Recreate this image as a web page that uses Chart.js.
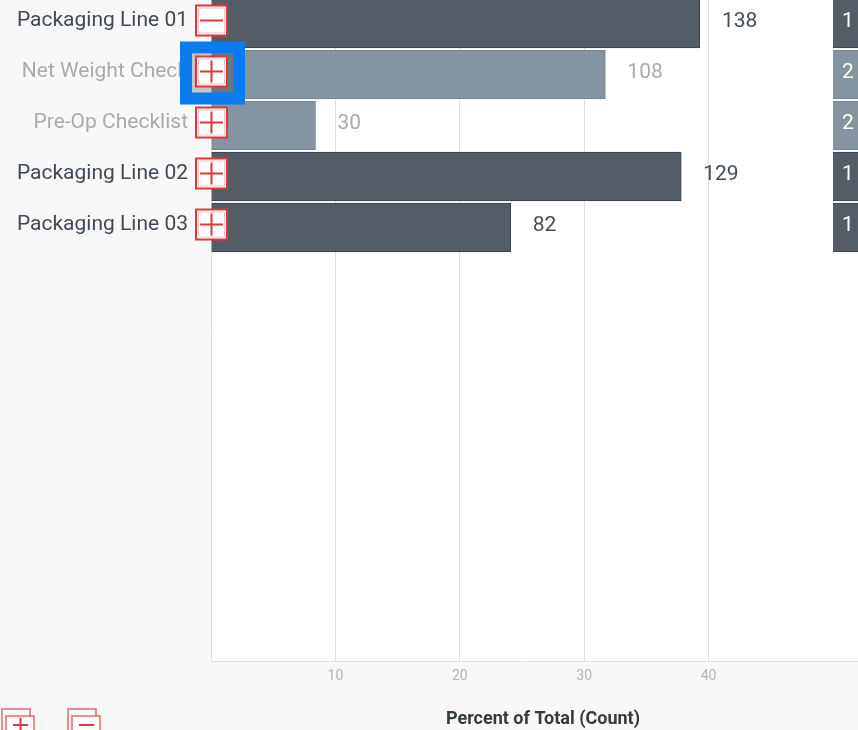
<!DOCTYPE html>
<html>
<head>
<meta charset="utf-8">
<script src="https://cdn.jsdelivr.net/npm/chart.js@4.4.1/dist/chart.umd.min.js"></script>
<style>
  html, body { margin: 0; padding: 0; width: 858px; height: 730px; overflow: hidden; background: #f8f8f8; }
  body { position: relative; }
  #main { position: absolute; left: 0; top: -2px; width: 858px; height: 732px; }
  #side { position: absolute; left: 833px; top: -2px; width: 120px; height: 732px; }
</style>
</head>
<body>
<div id="main"><canvas id="mainChart"></canvas></div>
<div id="side"><canvas id="sideChart"></canvas></div>
<script>
const categories = ['Packaging Line 01', 'Net Weight Check', 'Pre-Op Checklist', 'Packaging Line 02', 'Packaging Line 03'];
const isChild = [false, true, true, false, false];
const expanded = [true, false, false, false, false];
const percentOfTotal = [39.3, 31.7, 8.4, 37.8, 24.1];
const counts = [138, 108, 30, 129, 82];
const sideValues = [1, 2, 2, 1, 1];
const xTickLabels = [10, 20, 30, 40];
const focusedRow = 1;

// the list has fixed-height rows; the rest of the panel is empty rows
const visibleRows = 13;
const rowLabels = categories.concat(Array(visibleRows - categories.length).fill(''));

const DARK = '#545c65', DARK_EDGE = '#3b4249';
const LIGHT = '#8594a0', LIGHT_EDGE = '#76838e';
const RED = '#e0363b';

Chart.defaults.font.family = 'Roboto';

function yScale(show) {
  const s = {
    type: 'category', display: show, offset: true,
    grid: { display: false, drawTicks: false }, border: { display: false },
    ticks: {
      autoSkip: false, padding: 23, labelOffset: -3,
      font: { size: 21 },
      color: ctx => isChild[ctx.index] ? '#ababab' : '#414a54'
    }
  };
  if (show) s.afterFit = axis => { axis.width = 211; axis.paddingTop = 0; axis.paddingBottom = 0; };
  return s;
}

function whiteArea(chart) {
  const { ctx, chartArea: a } = chart;
  ctx.save();
  ctx.fillStyle = '#ffffff';
  ctx.fillRect(a.left, a.top, a.right - a.left, a.bottom - a.top);
  ctx.restore();
}

function drawIcon(ctx, cx, cy, minus) {
  ctx.save();
  ctx.fillStyle = '#fff';
  ctx.fillRect(cx - 15, cy - 15, 31, 30);
  ctx.strokeStyle = RED; ctx.lineWidth = 2;
  ctx.strokeRect(cx - 15, cy - 15, 31, 30);
  ctx.strokeStyle = 'rgba(224,54,59,0.3)'; ctx.lineWidth = 1;
  ctx.strokeRect(cx - 12.5, cy - 12.5, 26, 25);
  ctx.strokeStyle = RED; ctx.lineWidth = 2;
  ctx.beginPath();
  ctx.moveTo(cx - 11, cy); ctx.lineTo(cx + 12, cy);
  if (!minus) { ctx.moveTo(cx + 0.5, cy - 11); ctx.lineTo(cx + 0.5, cy + 11); }
  ctx.stroke();
  ctx.restore();
}

function drawStackIcon(ctx, x, y, minus) {
  ctx.save();
  ctx.strokeStyle = 'rgba(224,54,59,0.75)'; ctx.lineWidth = 1.5;
  ctx.fillStyle = '#fff';
  ctx.strokeRect(x, y, 28, 28);
  ctx.fillRect(x + 4, y + 7, 28, 28);
  ctx.strokeRect(x + 4, y + 7, 28, 28);
  ctx.strokeStyle = RED; ctx.lineWidth = 2;
  ctx.beginPath();
  ctx.moveTo(x + 11, y + 16); ctx.lineTo(x + 26, y + 16);
  if (!minus) { ctx.moveTo(x + 18.5, y + 9); ctx.lineTo(x + 18.5, y + 23); }
  ctx.stroke();
  ctx.restore();
}

const mainDecor = {
  id: 'mainDecor',
  beforeDraw: whiteArea,
  afterDatasetsDraw(chart) {
    const { ctx } = chart;
    ctx.save();
    ctx.font = '21px Roboto';
    ctx.textBaseline = 'middle';
    chart.getDatasetMeta(0).data.forEach((bar, i) => {
      ctx.fillStyle = isChild[i] ? '#ababab' : '#444d57';
      ctx.fillText(String(counts[i]), bar.x + 22, bar.y - 2);
    });
    ctx.restore();
  },
  afterDraw(chart) {
    const { ctx, chartArea } = chart;
    const y = chart.scales.y;
    categories.forEach((c, i) => {
      const cx = chartArea.left, cy = y.getPixelForValue(i) - 3;
      if (i === focusedRow) {
        ctx.save();
        ctx.fillStyle = 'rgba(0,0,0,0.2)';
        ctx.fillRect(cx - 19, cy - 18, 41, 40);
        ctx.strokeStyle = '#0b7cf0'; ctx.lineWidth = 12;
        ctx.strokeRect(cx - 25, cy - 24, 53, 51);
        ctx.restore();
      }
      drawIcon(ctx, cx, cy, expanded[i]);
    });
    ctx.save();
    ctx.fillStyle = '#333a40';
    ctx.font = 'bold 18px Roboto';
    ctx.textAlign = 'center';
    ctx.textBaseline = 'middle';
    ctx.fillText('Percent of Total (Count)', 543, 721);
    ctx.restore();
    drawStackIcon(ctx, 2, 711, false);
    drawStackIcon(ctx, 68, 711, true);
  }
};

new Chart(document.getElementById('mainChart'), {
  type: 'bar',
  data: {
    labels: rowLabels,
    datasets: [{
      data: percentOfTotal,
      backgroundColor: isChild.map(c => c ? LIGHT : DARK),
      borderColor: isChild.map(c => c ? LIGHT_EDGE : DARK_EDGE),
      borderWidth: 1,
      barThickness: 49
    }]
  },
  options: {
    indexAxis: 'y',
    responsive: true, maintainAspectRatio: false, animation: false,
    layout: { padding: { left: 0, right: 25, top: 0, bottom: 0 } },
    plugins: { legend: { display: false }, tooltip: { enabled: false } },
    scales: {
      x: {
        type: 'linear', min: 0, max: 50,
        grid: { color: '#dedede', drawTicks: false },
        border: { color: '#dedede' },
        ticks: {
          stepSize: 10, padding: 7, color: '#b5b5b5', font: { size: 14 },
          callback: v => xTickLabels.includes(v) ? String(v) : ''
        },
        afterFit: axis => { axis.height = 69; }
      },
      y: yScale(true)
    }
  },
  plugins: [mainDecor]
});

const sideDecor = {
  id: 'sideDecor',
  beforeDraw: whiteArea,
  afterDatasetsDraw(chart) {
    const { ctx } = chart;
    ctx.save();
    ctx.font = '21px Roboto';
    ctx.textBaseline = 'middle';
    ctx.fillStyle = '#ffffff';
    chart.getDatasetMeta(0).data.forEach((bar, i) => {
      ctx.fillText(String(sideValues[i]), bar.base + 9, bar.y - 2);
    });
    ctx.restore();
  }
};

new Chart(document.getElementById('sideChart'), {
  type: 'bar',
  data: {
    labels: rowLabels,
    datasets: [{
      data: sideValues,
      backgroundColor: isChild.map(c => c ? LIGHT : DARK),
      borderColor: isChild.map(c => c ? LIGHT_EDGE : DARK_EDGE),
      borderWidth: 1,
      barThickness: 49
    }]
  },
  options: {
    indexAxis: 'y',
    responsive: true, maintainAspectRatio: false, animation: false,
    plugins: { legend: { display: false }, tooltip: { enabled: false } },
    scales: {
      x: {
        type: 'linear', min: 0, max: 2.2,
        grid: { display: false },
        border: { color: '#dedede' },
        ticks: { display: false },
        afterFit: axis => { axis.height = 69; }
      },
      y: yScale(false)
    }
  },
  plugins: [sideDecor]
});
</script>
</body>
</html>
